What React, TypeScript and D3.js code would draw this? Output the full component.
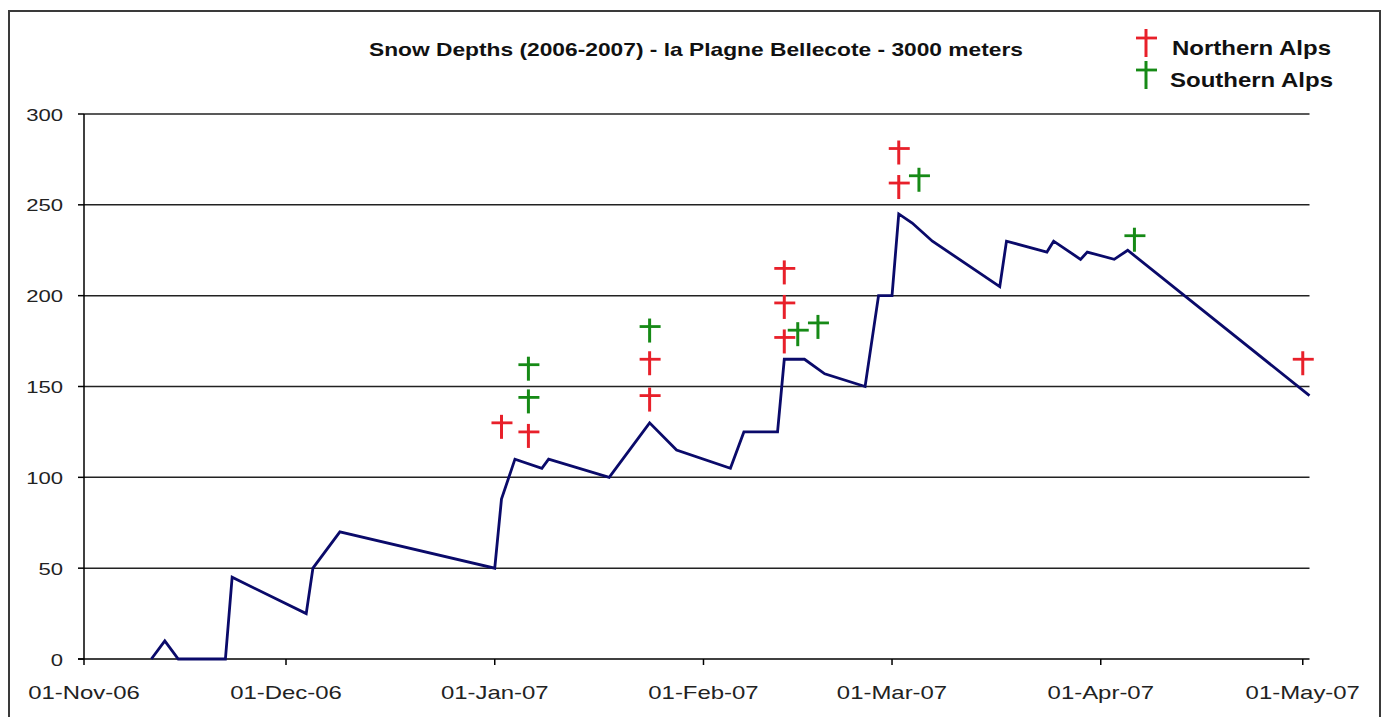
import { useEffect, useRef } from "react";
import * as d3 from "d3";

// snow depth readings (cm)
const depthDates = [
  "2006-11-11", "2006-11-13", "2006-11-15", "2006-11-22", "2006-11-23",
  "2006-12-04", "2006-12-05", "2006-12-09", "2007-01-01", "2007-01-02",
  "2007-01-04", "2007-01-08", "2007-01-09", "2007-01-18", "2007-01-24",
  "2007-01-28", "2007-02-05", "2007-02-07", "2007-02-12", "2007-02-13",
  "2007-02-16", "2007-02-19", "2007-02-25", "2007-02-27", "2007-03-01",
  "2007-03-02", "2007-03-04", "2007-03-07", "2007-03-17", "2007-03-18",
  "2007-03-24", "2007-03-25", "2007-03-29", "2007-03-30", "2007-04-03",
  "2007-04-05", "2007-05-02",
];
const depthValues = [
  0, 10, 0, 0, 45,
  25, 50, 70, 50, 88,
  110, 105, 110, 100, 130,
  115, 105, 125, 125, 165,
  165, 157, 150, 200, 200,
  245, 240, 230, 205, 230,
  224, 230, 220, 224, 220,
  225, 145,
];

// storm markers
const northernDates = [
  "2007-01-02", "2007-01-06", "2007-01-24", "2007-01-24", "2007-02-13",
  "2007-02-13", "2007-02-13", "2007-03-02", "2007-03-02", "2007-05-01",
];
const northernValues = [130, 125, 145, 165, 177, 196, 215, 262, 281, 165];
const southernDates = [
  "2007-01-06", "2007-01-06", "2007-01-24", "2007-02-15", "2007-02-18",
  "2007-03-05", "2007-04-06",
];
const southernValues = [144, 162, 183, 181, 185, 266, 233];

const yTicks = [0, 50, 100, 150, 200, 250, 300];
const xStart = "2006-11-01";
const xEnd = "2007-05-02";

const TITLE = "Snow Depths (2006-2007) - la Plagne Bellecote - 3000 meters";
const RED = "#e8202a";
const GREEN = "#168a16";
const NAVY = "#0a0a6a";

export default function App() {
  const svgRef = useRef<SVGSVGElement>(null);

  useEffect(() => {
    if (!svgRef.current) return;
    const width = 1385;
    const height = 717;
    const parse = d3.utcParse("%Y-%m-%d");

    const svg = d3.select(svgRef.current);
    svg.selectAll("*").remove();
    svg.attr("width", width).attr("height", height);

    svg.append("rect").attr("width", width).attr("height", height).attr("fill", "#fff");
    svg
      .append("rect")
      .attr("x", 9)
      .attr("y", 11)
      .attr("width", 1371)
      .attr("height", 740)
      .attr("fill", "none")
      .attr("stroke", "#3a3a3a")
      .attr("stroke-width", 2);

    const x = d3
      .scaleUtc()
      .domain([parse(xStart)!, parse(xEnd)!])
      .range([84, 1309.5]);
    const y = d3.scaleLinear().domain([0, 300]).range([659, 114]);

    const font = "'Liberation Sans', Arial, sans-serif";

    // gridlines
    svg
      .append("g")
      .selectAll("line")
      .data(yTicks.filter((d) => d > 0))
      .join("line")
      .attr("x1", x.range()[0])
      .attr("x2", x.range()[1])
      .attr("y1", (d) => y(d))
      .attr("y2", (d) => y(d))
      .attr("stroke", "#222")
      .attr("stroke-width", 1.5);

    // y axis
    const yAxis = svg.append("g");
    yAxis
      .append("line")
      .attr("x1", 84)
      .attr("x2", 84)
      .attr("y1", y(300))
      .attr("y2", y(0))
      .attr("stroke", "#000")
      .attr("stroke-width", 1.5);
    yAxis
      .selectAll(".tick")
      .data(yTicks)
      .join("line")
      .attr("x1", 78)
      .attr("x2", 84)
      .attr("y1", (d) => y(d))
      .attr("y2", (d) => y(d))
      .attr("stroke", "#000")
      .attr("stroke-width", 1.5);
    yAxis
      .selectAll("text")
      .data(yTicks)
      .join("text")
      .attr("transform", (d) => `translate(63,${y(d) + 6.5}) scale(1.3,1)`)
      .attr("text-anchor", "end")
      .attr("font-family", font)
      .attr("font-size", 17)
      .attr("fill", "#222")
      .text((d) => d);

    // x axis
    const months = d3.utcMonth.range(parse(xStart)!, parse(xEnd)!);
    const fmt = d3.utcFormat("%d-%b-%y");
    const xAxis = svg.append("g");
    xAxis
      .append("line")
      .attr("x1", 78)
      .attr("x2", x.range()[1])
      .attr("y1", y(0))
      .attr("y2", y(0))
      .attr("stroke", "#000")
      .attr("stroke-width", 1.5);
    xAxis
      .selectAll(".tick")
      .data(months)
      .join("line")
      .attr("x1", (d) => x(d))
      .attr("x2", (d) => x(d))
      .attr("y1", y(0))
      .attr("y2", y(0) + 6)
      .attr("stroke", "#000")
      .attr("stroke-width", 1.5);
    xAxis
      .selectAll("text")
      .data(months)
      .join("text")
      .attr("transform", (d) => `translate(${x(d)},699) scale(1.33,1)`)
      .attr("text-anchor", "middle")
      .attr("font-family", font)
      .attr("font-size", 18)
      .attr("fill", "#222")
      .text((d) => fmt(d));

    // depth line
    const pts = depthDates.map((d, i) => [parse(d)!, depthValues[i]] as [Date, number]);
    const line = d3
      .line<[Date, number]>()
      .x((d) => x(d[0]))
      .y((d) => y(d[1]));
    svg
      .append("path")
      .attr("d", line(pts))
      .attr("fill", "none")
      .attr("stroke", NAVY)
      .attr("stroke-width", 2.8)
      .attr("stroke-linejoin", "miter");

    // cross markers
    const cross = (g: d3.Selection<SVGGElement, unknown, null, undefined>, cx: number, cy: number, color: string, h = 24) => {
      const top = Math.round(h * 0.33);
      g.append("line")
        .attr("x1", cx)
        .attr("x2", cx)
        .attr("y1", cy - top)
        .attr("y2", cy + h - top)
        .attr("stroke", color)
        .attr("stroke-width", 3);
      g.append("line")
        .attr("x1", cx - 10)
        .attr("x2", cx + 11)
        .attr("y1", cy)
        .attr("y2", cy)
        .attr("stroke", color)
        .attr("stroke-width", 2.8);
    };
    const marks = svg.append("g");
    northernDates.forEach((d, i) => cross(marks, x(parse(d)!), y(northernValues[i]), RED));
    southernDates.forEach((d, i) => cross(marks, x(parse(d)!), y(southernValues[i]), GREEN));

    // title
    svg
      .append("text")
      .attr("transform", `translate(696,56) scale(1.265,1)`)
      .attr("text-anchor", "middle")
      .attr("font-family", font)
      .attr("font-weight", "bold")
      .attr("font-size", 18)
      .attr("fill", "#111")
      .text(TITLE);

    // legend
    const legend = svg.append("g");
    const items = [
      { label: "Northern Alps", color: RED, y: 38, tx: 1172 },
      { label: "Southern Alps", color: GREEN, y: 70, tx: 1170 },
    ];
    items.forEach((it) => {
      cross(legend, 1146, it.y, it.color, 28);
      legend
        .append("text")
        .attr("transform", `translate(${it.tx},${it.y + 17}) scale(1.2,1)`)
        .attr("font-family", font)
        .attr("font-weight", "bold")
        .attr("font-size", 20)
        .attr("fill", "#111")
        .text(it.label);
    });
  }, []);

  return (
    <div style={{ position: "absolute", left: 0, top: 0 }}>
      <svg ref={svgRef} style={{ display: "block" }} />
    </div>
  );
}
